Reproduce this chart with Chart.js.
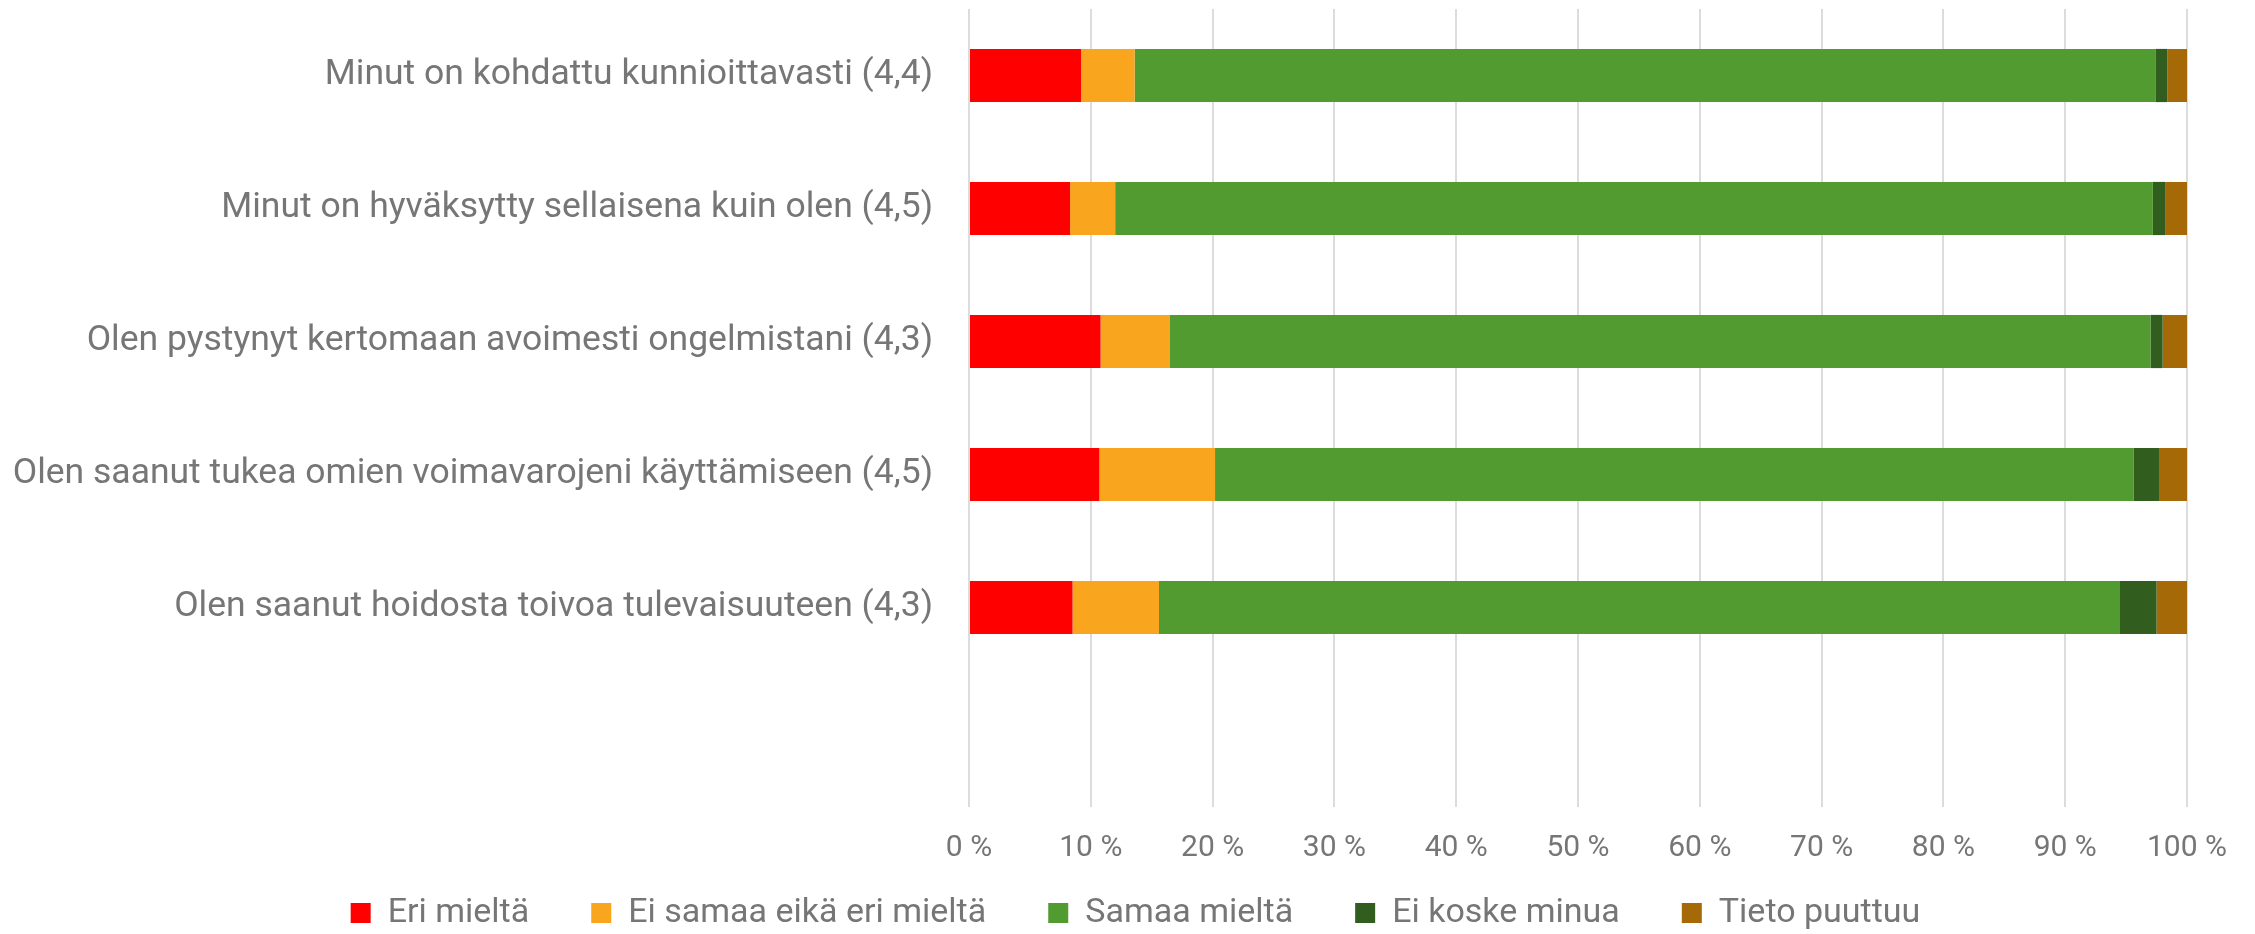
<!DOCTYPE html>
<html>
<head>
<meta charset="utf-8">
<script src="https://cdn.jsdelivr.net/npm/chart.js@4"></script>
<style>
  html, body { margin: 0; padding: 0; background: #fff; }
  #wrap { width: 2255px; height: 934px; }
</style>
</head>
<body>
<div id="wrap"><canvas id="chart"></canvas></div>
<script>
const categories = [
  'Minut on kohdattu kunnioittavasti (4,4)',
  'Minut on hyväksytty sellaisena kuin olen (4,5)',
  'Olen pystynyt kertomaan avoimesti ongelmistani (4,3)',
  'Olen saanut tukea omien voimavarojeni käyttämiseen (4,5)',
  'Olen saanut hoidosta toivoa tulevaisuuteen (4,3)',
  ''
];
const seriesNames = ['Eri mieltä', 'Ei samaa eikä eri mieltä', 'Samaa mieltä', 'Ei koske minua', 'Tieto puuttuu'];
const eriMielta = [9.2, 8.3, 10.8, 10.7, 8.5];
const eiSamaaEikaEri = [4.4, 3.7, 5.7, 9.5, 7.1];
const samaaMielta = [83.8, 85.2, 80.5, 75.4, 78.9];
const eiKoske = [1.0, 1.0, 1.0, 2.1, 3.0];
const tietoPuuttuu = [1.6, 1.8, 2.0, 2.3, 2.5];
const xTicks = [0, 10, 20, 30, 40, 50, 60, 70, 80, 90, 100];

const colors = ['#FF0000', '#F9A61E', '#529B31', '#315E1E', '#A66908'];
const seriesData = [eriMielta, eiSamaaEikaEri, samaaMielta, eiKoske, tietoPuuttuu];
const textColor = '#767676';
const fontFamily = 'Roboto, "Liberation Sans", sans-serif';

const datasets = seriesNames.map((name, i) => ({
  label: name,
  data: seriesData[i],
  backgroundColor: colors[i],
  borderWidth: 0,
  barPercentage: 0.4,
  categoryPercentage: 1
}));

new Chart(document.getElementById('chart'), {
  type: 'bar',
  data: { labels: categories, datasets },
  options: {
    indexAxis: 'y',
    responsive: true,
    maintainAspectRatio: false,
    animation: false,
    layout: { padding: { top: 9, right: 0, bottom: -6, left: 16 } },
    scales: {
      x: {
        stacked: true,
        min: 0,
        max: 100,
        afterBuildTicks: scale => { scale.ticks = xTicks.map(v => ({ value: v })); },
        afterFit: scale => {
          // keep the axis box short so the legend sits close, but don't clip the labels
          scale.height = 27;
          scale.paddingRight = 68;
          scale._computeLabelArea = () => undefined;
        },
        grid: { color: '#DCDCDC', lineWidth: 2, drawTicks: false },
        border: { display: false },
        ticks: {
          padding: 23,
          color: textColor,
          font: { family: fontFamily, size: 30 },
          callback: v => v + ' %'
        }
      },
      y: {
        stacked: true,
        grid: { display: false, drawTicks: false },
        border: { display: false },
        afterFit: scale => {
          scale.width = 953;
          scale.paddingTop = 0;
          scale.paddingBottom = 0;
          scale._computeLabelArea = () => undefined;
        },
        ticks: {
          padding: 36,
          color: textColor,
          font: { family: fontFamily, size: 35.5 }
        }
      }
    },
    plugins: {
      legend: {
        position: 'bottom',
        labels: {
          boxWidth: 20,
          boxHeight: 20,
          padding: 62,
          color: textColor,
          font: { family: fontFamily, size: 34 }
        }
      },
      tooltip: { enabled: false }
    }
  }
});
</script>
</body>
</html>
